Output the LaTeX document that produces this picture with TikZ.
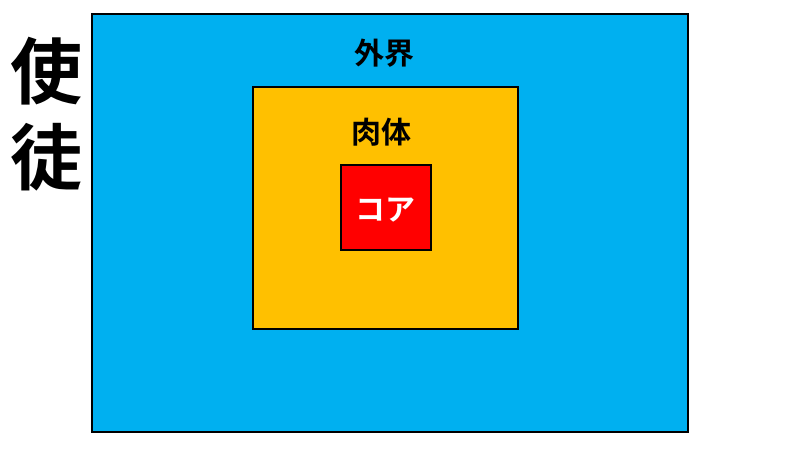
\documentclass[tikz,border=0pt]{standalone}
\usepackage{fontspec}
\newfontfamily\cjk{Noto Sans CJK JP}[BoldFont={* Bold}]
\definecolor{outerblue}{HTML}{00B0F0}
\definecolor{bodyorange}{HTML}{FFC000}
\definecolor{corered}{HTML}{FF0000}
\begin{document}
\begin{tikzpicture}[x=1pt,y=-1pt,
  box/.style={draw=black,line width=1.8pt},
  lbl/.style={font=\cjk\bfseries\fontsize{30}{30}\selectfont,inner sep=0pt}]
\useasboundingbox (0,0) rectangle (800,450);
\fill[white] (0,0) rectangle (800,450);
\draw[box,fill=outerblue] (92,14) rectangle (688,432);
\draw[box,fill=bodyorange] (253,87) rectangle (518,329);
\draw[box,fill=corered] (341,165) rectangle (431,250);
\node[lbl] (gaikai) at (384,53) {外界};
\node[lbl] (nikutai) at (381,132) {肉体};
\node[lbl,text=white] (core) at (385,210) {コア};
\node[font=\cjk\bfseries\fontsize{72}{86}\selectfont,inner sep=0pt,align=center] (shito) at (46,114) {使\\徒};
\end{tikzpicture}
\end{document}
